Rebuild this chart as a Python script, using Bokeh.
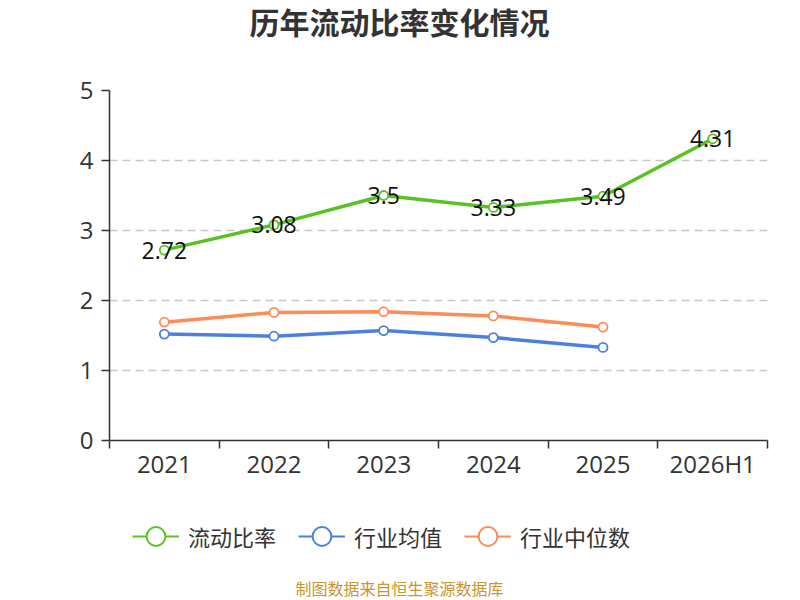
from bokeh.plotting import figure
from bokeh.layouts import column
from bokeh.models import Range1d, FixedTicker, Label, Legend, LegendItem, ColumnDataSource
from bokeh.core.properties import value
from bokeh.embed import file_html
from bokeh.resources import INLINE

# ---- data ----
categories = ["2021", "2022", "2023", "2024", "2025", "2026H1"]
current_ratio = [2.72, 3.08, 3.5, 3.33, 3.49, 4.31]
industry_mean = [1.52, 1.49, 1.57, 1.47, 1.33]
industry_median = [1.69, 1.83, 1.84, 1.78, 1.62]
y_ticks = [0, 1, 2, 3, 4, 5]
series_names = ["流动比率", "行业均值", "行业中位数"]
title_text = "历年流动比率变化情况"
source_text = "制图数据来自恒生聚源数据库"

GREEN = "#57c322"
BLUE = "#4b80e0"
ORANGE = "#fd8c57"
colors = [GREEN, BLUE, ORANGE]
AXIS = "#333333"
TXT = "#333333"

W = 784
LEFT, RIGHT = 109, 17          # frame borders (frames are aligned in the column)
FRAME_W = W - LEFT - RIGHT
H_TOP, H_MAIN, H_BOT = 69, 421, 108


def blank_fig(h):
    f = figure(width=W, height=h, output_backend="svg", toolbar_location=None,
               x_range=Range1d(0, FRAME_W), y_range=Range1d(0, h),
               min_border_left=LEFT, min_border_right=RIGHT, min_border_top=0,
               min_border_bottom=0)
    f.axis.visible = False
    f.grid.visible = False
    f.outline_line_color = None
    f.background_fill_color = "white"
    return f


# ---- title panel ----
top = blank_fig(H_TOP)
top.add_layout(Label(x=400 - 110, y=H_TOP - 20, x_units="screen", y_units="screen",
                     text=title_text, text_align="center", text_baseline="middle",
                     text_font_size="30px", text_font_style="bold",
                     text_font="Noto Sans CJK SC", text_color="#333333"))

# ---- main chart ----
p = figure(width=W, height=H_MAIN, output_backend="svg", toolbar_location=None,
           x_range=Range1d(-0.5, len(categories) - 0.5),
           y_range=Range1d(y_ticks[0], y_ticks[-1]),
           min_border_left=LEFT, min_border_right=RIGHT,
           min_border_top=21, min_border_bottom=50)
p.outline_line_color = None
p.background_fill_color = "white"

xa = p.xaxis[0]
xa.ticker = FixedTicker(ticks=list(range(len(categories))),
                        minor_ticks=[i - 0.5 for i in range(len(categories) + 1)])
xa.major_label_overrides = {i: c for i, c in enumerate(categories)}
xa.major_tick_line_color = None
xa.major_tick_out = 0
xa.major_tick_in = 0
xa.minor_tick_out = 8
xa.minor_tick_in = 0
xa.minor_tick_line_color = AXIS
xa.minor_tick_line_width = 1.5
xa.axis_line_color = AXIS
xa.axis_line_width = 1.5
xa.major_label_standoff = -2
xa.major_label_text_font_size = "24px"
xa.major_label_text_font = "Open Sans"
xa.major_label_text_color = TXT

ya = p.yaxis[0]
ya.ticker = FixedTicker(ticks=y_ticks)
ya.major_tick_out = 8
ya.major_tick_in = 0
ya.major_tick_line_color = AXIS
ya.major_tick_line_width = 1.5
ya.minor_tick_line_color = None
ya.axis_line_color = AXIS
ya.axis_line_width = 1.5
ya.major_label_standoff = 8
ya.major_label_text_font_size = "24px"
ya.major_label_text_font = "Open Sans"
ya.major_label_text_color = TXT

p.xgrid.visible = False
p.ygrid.ticker = FixedTicker(ticks=y_ticks[1:])
p.ygrid.grid_line_color = "#c8c8c8"
p.ygrid.grid_line_dash = "8 5"
p.ygrid.grid_line_width = 1.5

all_series = [current_ratio, industry_mean, industry_median]
for vals, col in zip(all_series[::-1], colors[::-1]):
    src = ColumnDataSource(dict(x=list(range(len(vals))), y=vals))
    p.line("x", "y", source=src, line_color=col, line_width=3.5)
    p.scatter("x", "y", source=src, marker="circle", size=9, fill_color="white",
              line_color=col, line_width=1.8)

lab_src = ColumnDataSource(dict(x=list(range(len(current_ratio))), y=current_ratio,
                                label=[f"{v:g}" for v in current_ratio]))
p.text("x", "y", text="label", source=lab_src, text_align="center",
       text_baseline="middle", text_font_size="23px", text_font=value("Open Sans"),
       text_color="#111111")

# ---- legend + source panel ----
bot = blank_fig(H_BOT)
nan = float("nan")
items = []
for name, col in zip(series_names, colors):
    r1 = bot.line([nan], [nan], line_color=col, line_width=2)
    r2 = bot.scatter([nan], [nan], marker="circle", fill_color="white", line_color=col,
                     line_width=2, size=10)
    items.append(LegendItem(label=name, renderers=[r1, r2]))
legend_bottom = H_BOT - 46 - 25
legend = Legend(items=items, orientation="horizontal", location=(133 - 110, legend_bottom),
                glyph_width=47, glyph_height=50, label_standoff=9, spacing=22,
                padding=0, margin=0, border_line_color=None,
                background_fill_alpha=0, label_text_font_size="22px",
                label_text_font="Noto Sans CJK SC", label_text_color=TXT,
                label_text_baseline="middle")
bot.add_layout(legend)
bot.add_layout(Label(x=400 - 110, y=11, x_units="screen", y_units="screen", text=source_text,
                     text_align="center", text_baseline="middle", text_font_size="16px",
                     text_font="Noto Sans CJK SC", text_color="#c9962e"))

layout = column(top, p, bot, spacing=0)
open("out.html", "w").write(file_html(layout, INLINE))
